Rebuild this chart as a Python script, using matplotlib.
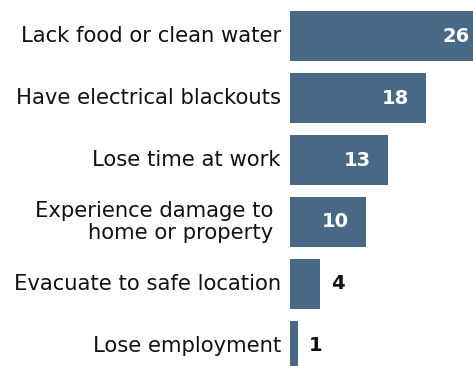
import matplotlib
matplotlib.use("Agg")
import matplotlib.pyplot as plt
from matplotlib.transforms import offset_copy, blended_transform_factory

categories = [
    "Lack food or clean water",
    "Have electrical blackouts",
    "Lose time at work",
    "Experience damage to\nhome or property",
    "Evacuate to safe location",
    "Lose employment",
]
values = [26, 18, 13, 10, 4, 1]
inside = [True, True, True, True, False, False]

bar_color = "#476985"

fig = plt.figure(figsize=(4.73, 3.66), dpi=100)
ax = fig.add_axes([290 / 473, 0, 183 / 473, 1])

ypos = list(range(len(values)))
ax.barh(ypos, values, height=0.8, color=bar_color)

ax.set_xlim(0, 183 / 7.55)
ax.set_ylim(5.323, -0.581)

ax.set_yticks([])
ax.set_xticks([])
for s in ax.spines.values():
    s.set_visible(False)

# category labels, right-aligned just left of the bars
base = blended_transform_factory(ax.transAxes, ax.transData)
for y, cat in zip(ypos, categories):
    dx = -17 if "\n" in cat else -9
    tr = offset_copy(base, fig=fig, x=dx, y=0, units="dots")
    ax.text(0, y, cat, transform=tr, ha="right", va="center",
            fontsize=15.2, color="#111111", family="DejaVu Sans",
            linespacing=1.1, clip_on=False)

for y, v, inn in zip(ypos, values, inside):
    if inn:
        tr = offset_copy(ax.transData, fig=fig, x=-17, y=0, units="dots")
        ax.text(v, y, str(v), transform=tr, ha="right", va="center",
                color="white", fontsize=14, fontweight="bold", clip_on=False)
    else:
        tr = offset_copy(ax.transData, fig=fig, x=11, y=0, units="dots")
        ax.text(v, y, str(v), transform=tr, ha="left", va="center",
                color="#111111", fontsize=14, fontweight="bold")

fig.savefig("out.png", dpi=100)
